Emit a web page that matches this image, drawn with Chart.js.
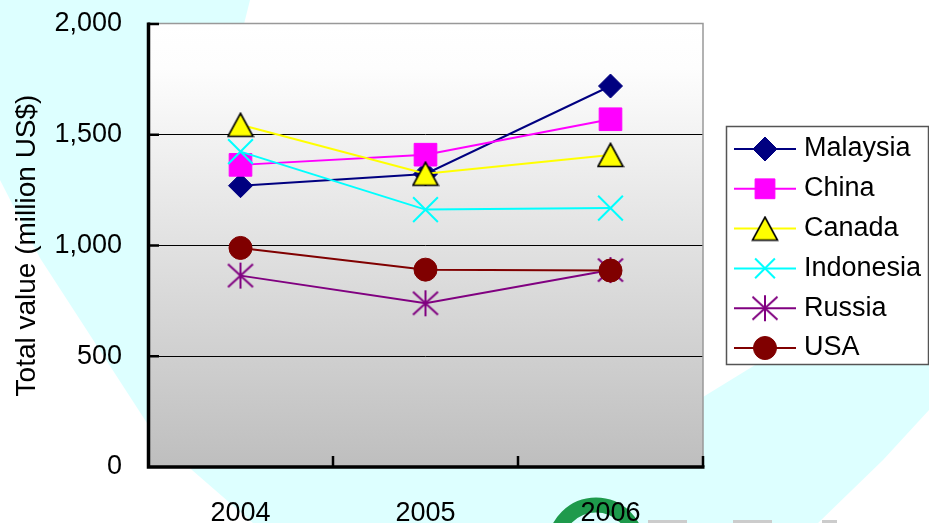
<!DOCTYPE html>
<html>
<head>
<meta charset="utf-8">
<title>Total value (million US$)</title>
<script src="https://cdn.jsdelivr.net/npm/chart.js"></script>
<style>
  html, body { margin: 0; padding: 0; background: #fff; }
  #wrap { width: 929px; height: 523px; }
</style>
</head>
<body>
<div id="wrap"><canvas id="valueChart" width="929" height="523"></canvas></div>
<script>
// Data (million US$)
const years = ['2004', '2005', '2006'];
const malaysia = [1270, 1323, 1720];
const china = [1364, 1410, 1570];
const canada = [1545, 1324, 1409];
const indonesia = [1424, 1162, 1169];
const russia = [864, 739, 889];
const usa = [989, 891, 887];
const yTickValues = [0, 500, 1000, 1500, 2000];

const FONT = "'Liberation Sans', Arial, sans-serif";
Chart.defaults.font.family = FONT;

// asterisk marker (vertical bar + X), Chart.js star has an extra horizontal bar
function makeAsterisk(color) {
    const c = document.createElement('canvas');
    c.width = 28;
    c.height = 28;
    const g = c.getContext('2d');
    g.strokeStyle = color;
    g.lineWidth = 2;
    g.beginPath();
    g.moveTo(14, 1); g.lineTo(14, 27);
    g.moveTo(1.5, 2.5); g.lineTo(26.5, 25.5);
    g.moveTo(26.5, 2.5); g.lineTo(1.5, 25.5);
    g.stroke();
    return c;
}

// triangle centred on its bounding box (Chart.js centres on the circumcentre)
function makeTriangle(fill, stroke) {
    const c = document.createElement('canvas');
    c.width = 28;
    c.height = 26;
    const g = c.getContext('2d');
    g.fillStyle = fill;
    g.strokeStyle = stroke;
    g.lineWidth = 1.6;
    g.lineJoin = 'miter';
    g.beginPath();
    g.moveTo(14, 1.5);
    g.lineTo(26.5, 24.5);
    g.lineTo(1.5, 24.5);
    g.closePath();
    g.fill();
    g.stroke();
    return c;
}

function series(label, data, color, style, radius, extra) {
    return Object.assign({
        label: label,
        data: data,
        borderColor: color,
        borderWidth: 2,
        tension: 0,
        pointStyle: style,
        pointRadius: radius,
        pointHoverRadius: radius,
        pointBackgroundColor: color,
        pointBorderColor: color,
        pointBorderWidth: 1
    }, extra || {});
}

// later series sit on top, like the original
const datasets = [
    series('Malaysia', malaysia, '#000080', 'rectRot', 12, { order: 6 }),
    series('China', china, '#ff00ff', 'rect', 16, { order: 5 }),
    series('Canada', canada, '#ffff00', makeTriangle('#ffff00', '#000000'), 14, { order: 4 }),
    series('Indonesia', indonesia, '#00ffff', 'crossRot', 17.5, { order: 3, pointBorderWidth: 2 }),
    series('Russia', russia, '#800080', makeAsterisk('#800080'), 14, { order: 2 }),
    series('USA', usa, '#800000', 'circle', 11.5, { order: 1 })
];

// slide background: white page, pale cyan swoosh, logo bits, grey plot gradient
const slideBackground = {
    id: 'slideBackground',
    beforeDraw(chart) {
        const ctx = chart.ctx;
        const a = chart.chartArea;
        ctx.save();
        ctx.fillStyle = '#ffffff';
        ctx.fillRect(0, 0, chart.width, chart.height);

        ctx.fillStyle = '#ddffff';
        ctx.beginPath();
        [[0, 0], [250, 0], [244, 24], [703, 397], [760, 362], [929, 362], [929, 410], [883, 460], [818, 523],
         [253, 523], [192, 470], [147, 423], [40, 258], [0, 180]].forEach(([px, py], i) => {
            if (i === 0) ctx.moveTo(px, py); else ctx.lineTo(px, py);
        });
        ctx.closePath();
        ctx.fill();

        ctx.strokeStyle = '#1e9a4c';
        ctx.lineWidth = 15;
        ctx.beginPath();
        ctx.arc(596, 546, 41, Math.PI, 2 * Math.PI);
        ctx.stroke();

        ctx.fillStyle = '#cccccc';
        ctx.fillRect(648, 520, 39, 3);
        ctx.fillRect(733, 520, 39, 3);
        ctx.fillRect(822, 520, 15, 3);

        const grad = ctx.createLinearGradient(0, a.top, 0, a.bottom);
        grad.addColorStop(0, '#ffffff');
        grad.addColorStop(0.1, '#fdfdfd');
        grad.addColorStop(1, '#bebebe');
        ctx.fillStyle = grad;
        ctx.fillRect(a.left, a.top, a.right - a.left, a.bottom - a.top);
        ctx.restore();
    }
};

// heavy black axes with inward ticks, thin grey top/right border
const axisFrame = {
    id: 'axisFrame',
    afterDraw(chart) {
        const { ctx, chartArea: a, scales: { x, y } } = chart;
        ctx.save();
        ctx.strokeStyle = '#999999';
        ctx.lineWidth = 1.5;
        ctx.beginPath();
        ctx.moveTo(a.left, a.top - 0.5);
        ctx.lineTo(a.right, a.top - 0.5);
        ctx.lineTo(a.right, a.bottom);
        ctx.stroke();

        ctx.strokeStyle = '#000000';
        ctx.lineWidth = 3.5;
        ctx.beginPath();
        ctx.moveTo(a.left + 0.5, a.top - 1.5);
        ctx.lineTo(a.left + 0.5, a.bottom);
        ctx.lineTo(a.right + 1.5, a.bottom);
        ctx.stroke();

        ctx.lineWidth = 2.5;
        ctx.beginPath();
        yTickValues.slice(1).forEach(v => {
            const py = y.getPixelForValue(v);
            ctx.moveTo(a.left, py);
            ctx.lineTo(a.left + 11, py);
        });
        for (let i = 0; i < years.length; i++) {
            const px = i < years.length - 1 ? (x.getPixelForValue(i) + x.getPixelForValue(i + 1)) / 2 : a.right;
            ctx.moveTo(px, a.bottom);
            ctx.lineTo(px, a.bottom - 11);
        }
        ctx.stroke();
        ctx.restore();
    }
};

// boxed legend on the right, line through each marker
const boxLegend = {
    id: 'boxLegend',
    afterDraw(chart) {
        const ctx = chart.ctx;
        const left = chart.chartArea.right + 23;
        const top = 126;
        ctx.save();
        ctx.fillStyle = '#ffffff';
        ctx.fillRect(left, top, 203, 239);
        ctx.strokeStyle = '#555555';
        ctx.lineWidth = 1.5;
        ctx.strokeRect(left + 0.5, top + 0.5, 202, 238);

        chart.data.datasets.forEach((ds, i) => {
            const cy = top + 23 + i * 39.8;
            ctx.strokeStyle = ds.borderColor;
            ctx.lineWidth = 2;
            ctx.beginPath();
            ctx.moveTo(left + 8, cy);
            ctx.lineTo(left + 70, cy);
            ctx.stroke();

            ctx.fillStyle = ds.pointBackgroundColor;
            ctx.strokeStyle = ds.pointBorderColor;
            ctx.lineWidth = ds.pointBorderWidth;
            Chart.helpers.drawPoint(ctx, {
                pointStyle: ds.pointStyle,
                radius: Math.min(ds.pointRadius, 14),
                rotation: 0,
                borderWidth: ds.pointBorderWidth
            }, left + 39, cy);

            ctx.fillStyle = '#000000';
            ctx.font = '27px ' + FONT;
            ctx.textAlign = 'left';
            ctx.textBaseline = 'middle';
            ctx.fillText(ds.label, left + 78, cy);
        });
        ctx.restore();
    }
};

new Chart(document.getElementById('valueChart'), {
    type: 'line',
    data: { labels: years, datasets: datasets },
    options: {
        responsive: false,
        animation: false,
        events: [],
        layout: { padding: { left: 0, top: 24, right: 226, bottom: 0 } },
        plugins: {
            legend: { display: false },
            tooltip: { enabled: false }
        },
        scales: {
            x: {
                offset: true,
                grid: { display: false },
                border: { display: false },
                ticks: { color: '#000000', font: { size: 27 }, padding: 22, maxRotation: 0 },
                afterFit(scale) { scale.height = 56; }
            },
            y: {
                min: 0,
                max: 2000,
                afterBuildTicks(scale) {
                    scale.ticks = yTickValues.map(v => ({ value: v }));
                },
                grid: {
                    drawTicks: false,
                    lineWidth: 1,
                    color: c => (c.tick && c.tick.value > 0 && c.tick.value < 2000) ? '#000000' : 'rgba(0,0,0,0)'
                },
                border: { display: false },
                ticks: {
                    color: '#000000',
                    font: { size: 27 },
                    padding: 26,
                    callback: v => Number(v).toLocaleString('en-US')
                },
                title: {
                    display: true,
                    text: 'Total value (million US$)',
                    color: '#000000',
                    font: { size: 28 },
                    padding: { top: 10, bottom: 0 }
                },
                afterFit(scale) {
                    scale.width = 148;
                    // tick padding is horizontal only here, keep it out of the top/bottom space
                    scale.paddingTop = 0;
                    scale.paddingBottom = 0;
                }
            }
        }
    },
    plugins: [slideBackground, axisFrame, boxLegend]
});
</script>
</body>
</html>
